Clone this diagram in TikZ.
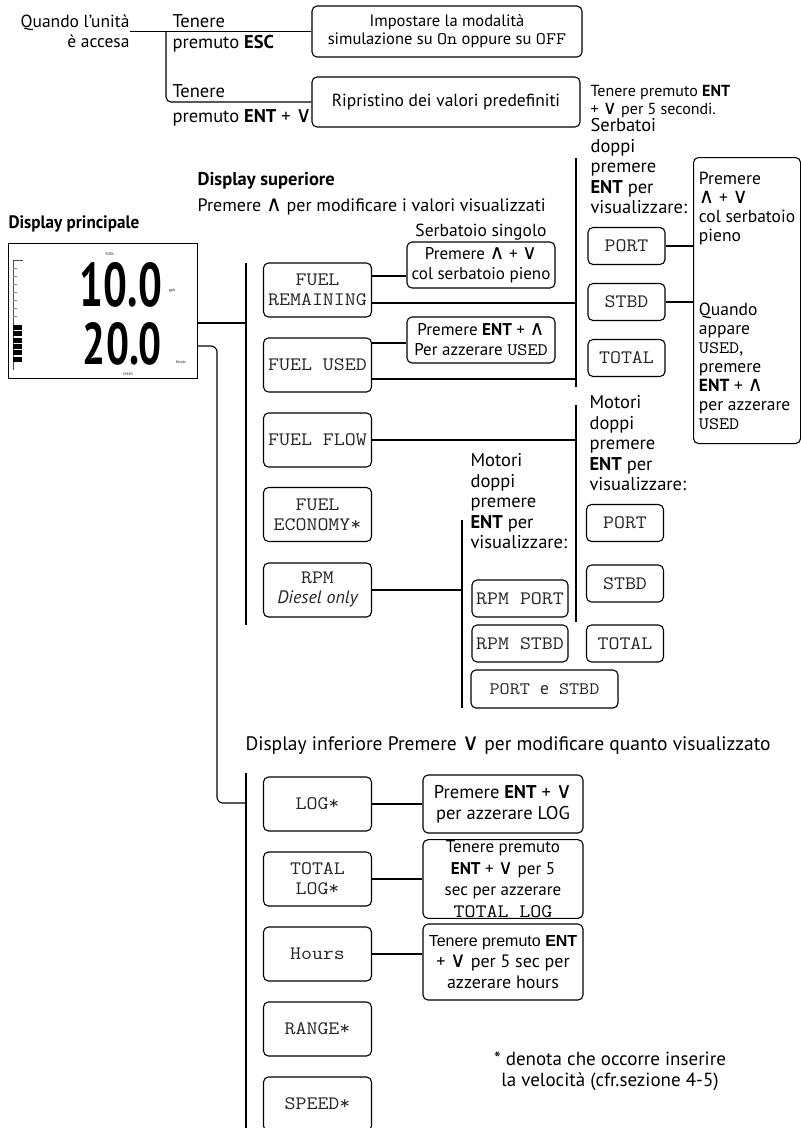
\documentclass[tikz,border=0pt]{standalone}
\usepackage{fontspec}
\usepackage{graphicx}
\setmainfont{PT Sans}
\setmonofont[FakeStretch=1.12]{Latin Modern Mono}
\newfontfamily\symfont{DejaVu Sans}
\newfontfamily\condfont[FakeStretch=0.95]{PT Sans}
\newfontfamily\arialfont{Liberation Sans}
\newcommand{\keyup}{\scalebox{1.2}{\symfont ∧}}
\newcommand{\keydn}{\scalebox{1.2}{\symfont ∨}}
\newcommand{\mono}[2]{{\ttfamily\fontsize{#1}{20}\selectfont #2}}
\usetikzlibrary{positioning}

\begin{document}
\begin{tikzpicture}[x=1pt, y=-1pt, line width=1.1pt,
  txt/.style={font=\fontsize{18.5}{20.5}\selectfont, inner sep=0pt},
  box/.style={draw, rounded corners=5pt, align=center, inner sep=1pt, font=\fontsize{17.5}{20}\selectfont},
  mbox/.style={box, font=\ttfamily\fontsize{19}{20}\selectfont, text=black!85, minimum width=108pt, minimum height=54pt},
  sbox/.style={mbox, minimum width=77pt, minimum height=37pt}]
  \useasboundingbox (0,0) rectangle (801,1128);

  % Encendido
  \node[txt, align=right, anchor=east, font=\fontsize{17.5}{20.5}\selectfont] (quando) at (130,31.5) {Quando l’unità\\è accesa};
  \node[box, minimum width=270pt, minimum height=51pt, font=\fontsize{16.5}{18}\selectfont] (sim) at (447,31.5)
    {Impostare la modalità\\simulazione su \mono{17.5}{On} oppure su \mono{17.5}{OFF}};
  \node[box, minimum width=268pt, minimum height=50pt] (rip) at (446,102) {Ripristino dei valori predefiniti};
  \coordinate (ramo) at (166,31.5);
  \draw (quando.east) -- (sim.west);
  \draw[rounded corners=5pt] (ramo) |- (rip.west);
  \node[txt, anchor=base west] (esc1) at (172,27) {Tenere};
  \node[txt, anchor=base west] (esc2) at (172,48.5) {premuto \textbf{ESC}};
  \node[txt, anchor=base west] (ent1) at (172,97) {Tenere};
  \node[txt, anchor=base west] (ent2) at (172,122) {premuto \textbf{ENT} + \keydn};
  \node[txt, anchor=north west, align=left, font=\fontsize{16}{18}\selectfont] (nota) at (590,85) {Tenere premuto \textbf{ENT}\\+ \keydn{} per 5 secondi.};

  % Display principale
  \node[txt, anchor=base west, font=\fontsize{18}{20}\selectfont\condfont\bfseries] (dpri) at (8,228) {Display principale};
  \node[draw, line width=1pt, minimum width=189pt, minimum height=135pt, inner sep=0pt] (disp) at (102.5,310.5) {};
  \node[inner sep=0pt] (cifra1) at (121,285) {\resizebox{82pt}{44pt}{\condfont\bfseries 10.0}};
  \node[inner sep=0pt] (cifra2) at (122.5,344) {\resizebox{79pt}{42pt}{\condfont\bfseries 20.0}};
  \node[inner sep=0pt, font=\fontsize{4}{4}\selectfont\bfseries, text=black!60] (lfuel) at (110,254) {FUEL};
  \node[inner sep=0pt, font=\fontsize{4}{4}\selectfont\bfseries, text=black!60] (lgph) at (172,291) {gph};
  \node[inner sep=0pt, font=\fontsize{4}{4}\selectfont\bfseries, text=black!60] (lkn) at (181,362) {Knots};
  \node[inner sep=0pt, font=\fontsize{3.5}{4}\selectfont\bfseries, text=black!60] (lspd) at (128,374.5) {SPEED};
  \draw[line width=0.8pt, black!70] (23,260) -- (13,260) -- (13,370);
  \foreach \k in {1,...,7}
    \draw[line width=0.6pt, black!45] (13,260+\k*8) -- (17,260+\k*8);
  \foreach \k in {0,...,5}
    \fill (13,325+\k*6.3) rectangle (22,330+\k*6.3);

  % Display superiore
  \node[txt, anchor=base west, font=\fontsize{18.5}{20}\selectfont\bfseries] (dsup) at (197,185) {Display superiore};
  \node[txt, anchor=base west, font=\fontsize{18}{20}\selectfont] (dsup2) at (197,211) {Premere \keyup{} per modificare i valori visualizzati};
  \coordinate (b1top) at (246,263);
  \coordinate (b1mid) at (246,323);
  \coordinate (b1bot) at (246,625);
  \draw (b1top) -- (b1bot);
  \draw (disp.east |- b1mid) -- (b1mid);

  \node[mbox] (rem) at (317.5,290) {FUEL\\REMAINING};
  \node[mbox] (usato) at (317.5,365) {FUEL USED};
  \node[mbox] (flusso) at (317.5,440) {FUEL FLOW};
  \node[mbox] (econ) at (317.5,514.5) {FUEL\\ECONOMY*};
  \node[mbox] (giri) at (317.5,590) {RPM\\{\rmfamily\itshape\fontsize{18}{20}\selectfont Diesel only}};

  \node[txt, font=\fontsize{17.5}{20}\selectfont] (singolo) at (481,232) {Serbatoio singolo};
  \node[box, minimum width=148pt, minimum height=46pt, font=\fontsize{17}{20}\selectfont] (pieno) at (481,265)
    {Premere \keyup{} + \keydn\\col serbatoio pieno};
  \node[box, minimum width=148pt, minimum height=46pt, font=\fontsize{17}{20}\selectfont] (azzera) at (481,340)
    {Premere \textbf{ENT} + \keyup\\Per azzerare \mono{17.5}{USED}};

  % Serbatoi doppi
  \node[txt, anchor=north west, align=left] (serb) at (590,118) {Serbatoi\\doppi\\premere\\\textbf{ENT} per\\visualizzare:};
  \coordinate (b3top) at (576,158);
  \coordinate (b3bot) at (576,387);
  \draw (b3top) -- (b3bot);
  \path (rem.east) ++(0,-14) coordinate (remA);
  \path (rem.east) ++(0,13) coordinate (remB);
  \draw (remA) -- (remA -| pieno.west);
  \draw (remB) -- (remB -| b3top);
  \path (usato.east) ++(0,-22) coordinate (usA);
  \path (usato.east) ++(0,14) coordinate (usB);
  \draw (usA) -- (usA -| azzera.west);
  \draw (usB) -- (usB -| b3top);

  \node[sbox] (port1) at (626.5,246) {PORT};
  \node[sbox] (stbd1) at (626.5,302) {STBD};
  \node[sbox] (tot1) at (626.5,358) {TOTAL};
  \node[box, anchor=north west, align=left, inner xsep=5pt, minimum width=107pt, minimum height=286pt,
    font=\fontsize{17.5}{19}\selectfont] (grande) at (693,157)
    {Premere\\\keyup{} + \keydn\\col serbatoio\\pieno\\[55pt]Quando\\appare\\\mono{17.5}{USED},\\premere\\\textbf{ENT} + \keyup\\per azzerare\\\mono{17.5}{USED}};
  \draw (port1.east) -- (port1.east -| grande.west);
  \draw (stbd1.east) -- (stbd1.east -| grande.west);

  % Motori doppi
  \node[txt, anchor=north west, align=left] (mot1) at (589,395) {Motori\\doppi\\premere\\\textbf{ENT} per\\visualizzare:};
  \coordinate (b4top) at (576,405);
  \coordinate (b4bot) at (576,622);
  \draw (b4top) -- (b4bot);
  \draw (flusso.east) -- (flusso.east -| b4top);
  \node[sbox] (port2) at (625,523) {PORT};
  \node[sbox] (stbd2) at (625,583.5) {STBD};
  \node[sbox] (tot2) at (625,643.5) {TOTAL};

  \node[txt, anchor=north west, align=left] (mot2) at (470,453) {Motori\\doppi\\premere\\\textbf{ENT} per\\visualizzare:};
  \coordinate (b5top) at (462,520);
  \coordinate (b5bot) at (462,708);
  \draw (b5top) -- (b5bot);
  \draw (giri.east) -- (giri.east -| b5top);
  \node[sbox, minimum width=96pt] (rpmp) at (520,598.5) {RPM PORT};
  \node[sbox, minimum width=96pt] (rpms) at (520,643.5) {RPM STBD};
  \node[sbox, minimum width=147pt, minimum height=38pt, font=\ttfamily\fontsize{17.5}{20}\selectfont] (pe) at (544.5,689)
    {PORT {\rmfamily e} STBD};

  % Display inferiore
  \node[txt, anchor=base west, font=\fontsize{19.5}{20}\selectfont] (dinf) at (245,750) {Display inferiore Premere \keydn{} per modificare quanto visualizzato};
  \coordinate (giro) at (217,803);
  \coordinate (b2mid) at (246,803);
  \coordinate (b2top) at (246,773);
  \coordinate (b2bot) at (246,1128);
  \draw (b2top) -- (b2bot);
  \draw[rounded corners=6pt] ([yshift=-35.5pt]disp.east) -| (giro) -- (b2mid);

  \node[mbox] (log) at (317.5,804) {LOG*};
  \node[mbox] (totlog) at (317.5,879) {TOTAL\\LOG*};
  \node[mbox] (ore) at (317.5,954) {Hours};
  \node[mbox] (autonomia) at (317.5,1029) {RANGE*};
  \node[mbox] (vel) at (317.5,1104) {SPEED*};

  \node[box, minimum width=160pt, minimum height=58pt, font=\fontsize{18.5}{21}\selectfont] (rlog) at (503,804)
    {Premere \textbf{ENT} + \keydn\\per azzerare LOG};
  \node[box, minimum width=160pt, minimum height=78pt, font=\fontsize{17}{21.5}\selectfont] (rtot) at (503,879)
    {Tenere premuto\\\textbf{ENT} + \keydn{} per 5\\sec per azzerare\\\mono{19}{TOTAL LOG}};
  \node[box, minimum width=160pt, minimum height=76pt, font=\fontsize{18}{21}\selectfont] (rore) at (503,962)
    {{\arialfont\fontsize{16}{21}\selectfont Tenere premuto \textbf{ENT}}\\+ \keydn{} per 5 sec per\\azzerare hours};
  \draw (log.east) -- (rlog.west);
  \draw (totlog.east) -- (totlog.east -| rtot.west);
  \draw (ore.east) -- (ore.east -| rore.west);

  \node[txt, align=center, font=\fontsize{19}{21}\selectfont] (nota2) at (610,1071) {* denota che occorre inserire\\la velocità (cfr.sezione 4-5)};
\end{tikzpicture}
\end{document}
